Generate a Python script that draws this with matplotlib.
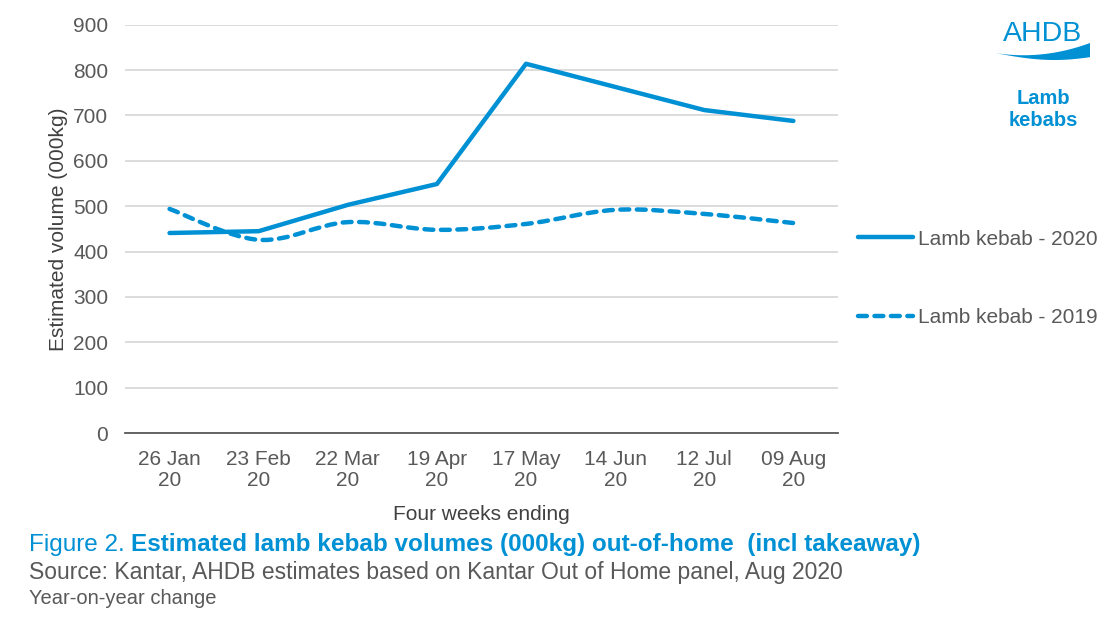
import matplotlib.pyplot as plt
import numpy as np
from matplotlib.path import Path
from matplotlib.patches import PathPatch, Polygon

plt.rcParams['font.family'] = ['Liberation Sans', 'DejaVu Sans']

# data
weeks = ['26 Jan\n20', '23 Feb\n20', '22 Mar\n20', '19 Apr\n20',
         '17 May\n20', '14 Jun\n20', '12 Jul\n20', '09 Aug\n20']
kebab_2020 = [441, 445, 503, 549, 814, 763, 712, 688]
kebab_2019 = [494, 426, 465, 448, 461, 492, 483, 463]

blue = '#0090D4'
grey = '#595959'
dash = (0, (2.0, 1.7))
W, H = 1114, 635


def smooth_path(x, y, t=0.17):
    # bezier through the points, like excel's smoothed line
    x = np.asarray(x, float)
    y = np.asarray(y, float)
    verts = [(x[0], y[0])]
    codes = [Path.MOVETO]
    n = len(x)
    for i in range(n - 1):
        p0 = (x[max(i - 1, 0)], y[max(i - 1, 0)])
        p1 = (x[i], y[i])
        p2 = (x[i + 1], y[i + 1])
        p3 = (x[min(i + 2, n - 1)], y[min(i + 2, n - 1)])
        c1 = (p1[0] + (p2[0] - p0[0]) * t, p1[1] + (p2[1] - p0[1]) * t)
        c2 = (p2[0] - (p3[0] - p1[0]) * t, p2[1] - (p3[1] - p1[1]) * t)
        verts += [c1, c2, p2]
        codes += [Path.CURVE4] * 3
    return Path(verts, codes)


fig = plt.figure(figsize=(W / 100, H / 100), dpi=100)
ax = fig.add_axes([0.1122, 0.318, 0.640, 0.643])

x = np.arange(len(weeks))
ax.plot(x, kebab_2020, color=blue, lw=3.2, solid_capstyle='round',
        solid_joinstyle='round', label='Lamb kebab - 2020')
ax.add_patch(PathPatch(smooth_path(x, kebab_2019), fill=False, edgecolor=blue,
                       lw=3.2, linestyle=dash, capstyle='round'))
ax.plot([], [], color=blue, lw=3.2, linestyle=dash, dash_capstyle='round',
        label='Lamb kebab - 2019')

ax.set_xlim(-0.5, len(weeks) - 0.5)
ax.set_ylim(0, 900)
ax.set_yticks(range(0, 901, 100))
ax.set_xticks(x)
ax.set_xticklabels(weeks, linespacing=1.12)
ax.grid(axis='y', color='#D9D9D9', lw=1.3)
ax.set_axisbelow(True)
for s in ['top', 'right', 'left']:
    ax.spines[s].set_visible(False)
ax.spines['bottom'].set_color(grey)
ax.spines['bottom'].set_linewidth(1.3)
ax.tick_params(length=0, labelsize=15, colors=grey)
ax.tick_params(axis='x', pad=12)
ax.tick_params(axis='y', pad=12)
ax.set_xlabel('Four weeks ending', fontsize=15, color='#404040', labelpad=11)
ax.set_ylabel('Estimated volume (000kg)', fontsize=15, color='#404040',
              labelpad=4)

leg = fig.legend(loc='upper left', bbox_to_anchor=(0.753, 0.668), frameon=False,
                 fontsize=15, handlelength=2.65, labelspacing=2.85,
                 handletextpad=0.25)
for t in leg.get_texts():
    t.set_color(grey)
leg.legend_handles[1].set_linestyle(dash)
leg.legend_handles[1].set_dash_capstyle('round')

# logo and title in the corner
fig.text(0.9355, 0.946, 'AHDB', fontsize=20.5, color=blue, ha='center',
         va='center')
u = np.linspace(0, 1, 60)
wave_px = 995 + 95 * u
top_px = 53 + 15 * u - 25 * u ** 2
bot_px = 53 + 7 * np.sin(np.pi * u * 0.8)
wave = np.vstack([np.c_[wave_px / W, 1 - top_px / H],
                  np.c_[wave_px[::-1] / W, 1 - bot_px[::-1] / H]])
fig.add_artist(Polygon(wave, closed=True, color=blue, lw=0,
                       transform=fig.transFigure))
fig.text(0.9365, 0.828, 'Lamb\nkebabs', fontsize=14.5, color=blue, ha='center',
         va='center', fontweight='bold', linespacing=1.2)

t1 = fig.text(0.026, 0.142, 'Figure 2. ', fontsize=17.5, color=blue, va='center')
fig.canvas.draw()
bb = t1.get_window_extent().transformed(fig.transFigure.inverted())
fig.text(bb.x1, 0.142, 'Estimated lamb kebab volumes (000kg) out-of-home  (incl takeaway)',
         fontsize=17.5, color=blue, va='center', fontweight='bold')
fig.text(0.026, 0.098, 'Source: Kantar, AHDB estimates based on Kantar Out of Home panel, Aug 2020',
         fontsize=16.5, color=grey, va='center')
fig.text(0.026, 0.058, 'Year-on-year change', fontsize=14.5, color=grey,
         va='center')

fig.savefig('out.png', dpi=100)
